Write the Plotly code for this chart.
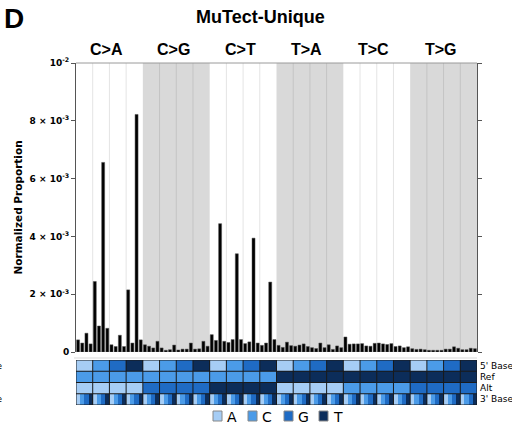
import plotly.graph_objects as go

# ---------------- data ----------------
mut_types = ["C>A", "C>G", "C>T", "T>A", "T>C", "T>G"]
bases = ["A", "C", "G", "T"]
base_colors = ["#a6cdf5", "#4b9be8", "#1f6bc4", "#0c2d5a"]

# normalized proportions (x 1e-4), 16 contexts per type (5' base major, 3' base minor)
vals_CA = [4.2, 3.1, 6.5, 2.8, 24.4, 9.0, 65.6, 8.2, 2.5, 1.9, 5.8, 1.9, 21.5, 3.1, 82.2, 4.2]
vals_CG = [2.5, 2.0, 1.4, 3.7, 1.4, 0.6, 0.8, 2.4, 0.7, 1.0, 1.0, 3.1, 1.0, 1.1, 3.7, 2.0]
vals_CT = [6.0, 4.0, 44.4, 3.7, 3.3, 4.3, 34.0, 4.3, 2.9, 3.5, 39.4, 3.1, 2.3, 3.1, 24.2, 4.3]
vals_TA = [2.3, 1.6, 3.4, 2.2, 2.0, 2.4, 2.8, 1.9, 1.5, 1.2, 3.1, 1.5, 2.5, 0.9, 2.1, 1.5]
vals_TC = [5.2, 2.7, 2.8, 2.8, 2.9, 2.1, 2.0, 3.0, 3.1, 2.8, 2.6, 2.9, 1.9, 2.1, 1.5, 1.8]
vals_TG = [1.15, 0.9, 1.0, 0.8, 0.6, 0.6, 0.6, 0.6, 1.0, 1.0, 1.8, 1.3, 0.8, 0.8, 1.3, 1.15]

y_tickvals = [0, 0.002, 0.004, 0.006, 0.008, 0.01]
y_ticktext = ["0", "2 × 10<sup>-3</sup>", "4 × 10<sup>-3</sup>", "6 × 10<sup>-3</sup>",
              "8 × 10<sup>-3</sup>", "10<sup>-2</sup>"]
row_labels = ["5' Base", "Ref", "Alt", "3' Base"]

values = [v * 1e-4 for grp in [vals_CA, vals_CG, vals_CT, vals_TA, vals_TC, vals_TG] for v in grp]
n = len(values)
xs = list(range(n))

# heatmap rows (category indices)
five_row, ref_row, alt_row, three_row = [], [], [], []
for mt in mut_types:
    for f in bases:
        for t in bases:
            five_row.append(bases.index(f))
            ref_row.append(bases.index(mt[0]))
            alt_row.append(bases.index(mt[2]))
            three_row.append(bases.index(t))
z_rows = [five_row, ref_row, alt_row, three_row]

# ---------------- layout geometry ----------------
W, H = 512, 424
L, R, T, B = 76, 477, 63, 405
BAR_BOTTOM, HM_TOP = 352, 360
PH = B - T
PW = R - L


def px(xp):
    return (xp - L) / PW


def py(yp):
    return (B - yp) / PH


fig = go.Figure()
fig.add_trace(go.Bar(x=xs, y=values, marker=dict(color="#000000", line=dict(color="#555555", width=0.5)),
                     xaxis="x", yaxis="y", showlegend=False, hoverinfo="skip"))

colorscale = [[0, base_colors[0]], [1 / 3, base_colors[1]], [2 / 3, base_colors[2]], [1, base_colors[3]]]
fig.add_trace(go.Heatmap(z=z_rows, x=xs, y=[0, 1, 2, 3], colorscale=colorscale, zmin=0, zmax=3,
                         showscale=False, xaxis="x2", yaxis="y2", hoverinfo="skip"))

shapes = []
# shaded groups
for g in range(len(mut_types)):
    if g % 2 == 1:
        shapes.append(dict(type="rect", xref="x", yref="y domain", x0=16 * g - 0.5, x1=16 * g + 15.5,
                           y0=0, y1=1, fillcolor="#d9d9d9", line=dict(width=0), layer="below"))
# light vertical lines at 4-context boundaries
for k in range(1, 24):
    if k % 4 == 0:
        continue
    g = k // 4
    col = "#c4c4c4" if g % 2 == 1 else "#e4e4e4"
    shapes.append(dict(type="line", xref="x", yref="y domain", x0=4 * k - 0.5, x1=4 * k - 0.5,
                       y0=0, y1=1, line=dict(color=col, width=1), layer="below"))
# top frame line
shapes.append(dict(type="line", xref="paper", yref="paper", x0=0, x1=1, y0=1, y1=1,
                   line=dict(color="#9a9a9a", width=1)))
# light line under bars
shapes.append(dict(type="line", xref="paper", yref="paper", x0=px(74), x1=1, y0=py(358), y1=py(358),
                   line=dict(color="#e6e6e6", width=1.5)))
# heatmap borders
for k in range(0, 25):
    shapes.append(dict(type="line", xref="x2", yref="y2", x0=4 * k - 0.5, x1=4 * k - 0.5, y0=-0.5, y1=3.5,
                       line=dict(color="#1a1a1a", width=1)))
for r in range(0, 5):
    shapes.append(dict(type="line", xref="x2", yref="y2", x0=-0.5, x1=n - 0.5, y0=r - 0.5, y1=r - 0.5,
                       line=dict(color="#1a1a1a", width=1)))

annotations = []
# group labels
for g, mt in enumerate(mut_types):
    annotations.append(dict(text=mt, xref="x", yref="paper", x=16 * g + 7.5, y=1, yanchor="bottom",
                            yshift=3, xshift=-3, showarrow=False,
                            font=dict(family="Liberation Sans", size=16, color="#000", weight="bold")))
# title and panel letter
annotations.append(dict(text="MuTect-Unique", xref="paper", yref="paper", x=px(260), y=py(17),
                        xanchor="center", yanchor="middle", showarrow=False,
                        font=dict(family="Liberation Sans", size=18, color="#000", weight="bold")))
annotations.append(dict(text="D", xref="paper", yref="paper", x=px(2), y=py(18),
                        xanchor="left", yanchor="middle", showarrow=False,
                        font=dict(family="Liberation Sans", size=28, color="#000", weight="bold")))
# y title
annotations.append(dict(text="Normalized Proportion", xref="paper", yref="paper", x=px(17),
                        y=py((T + BAR_BOTTOM) / 2), textangle=-90, xanchor="center", yanchor="middle",
                        showarrow=False,
                        font=dict(family="DejaVu Sans", size=10.5, color="#000", weight="bold")))
# heatmap row labels (right) and clipped labels (left)
for r, lab in enumerate(row_labels):
    annotations.append(dict(text=lab, xref="paper", yref="y2", x=1, y=r, xanchor="left", yanchor="middle",
                            xshift=1, showarrow=False, font=dict(family="DejaVu Sans", size=9, color="#000")))
for r in [0, 3]:
    annotations.append(dict(text=row_labels[r], xref="paper", yref="y2", x=px(4), y=r, xanchor="right",
                            yanchor="middle", showarrow=False,
                            font=dict(family="DejaVu Sans", size=9, color="#000")))
# legend
leg_x = [213, 248, 284, 319]
for b, c, lx in zip(bases, base_colors, leg_x):
    shapes.append(dict(type="rect", xref="paper", yref="paper", x0=px(lx), x1=px(lx + 9),
                       y0=py(421), y1=py(411), fillcolor=c, line=dict(color="#888888", width=1)))
    annotations.append(dict(text=b, xref="paper", yref="paper", x=px(lx + 12), y=py(416.5),
                            xanchor="left", yanchor="middle", showarrow=False,
                            font=dict(family="DejaVu Sans", size=14, color="#000")))

fig.update_layout(
    width=W, height=H, margin=dict(l=L, r=W - R, t=T, b=H - B),
    paper_bgcolor="white", plot_bgcolor="white", bargap=0.28,
    showlegend=False, shapes=shapes, annotations=annotations,
    xaxis=dict(range=[-0.5, n - 0.5], anchor="y", showticklabels=False, showgrid=False,
               zeroline=False, ticks="", showline=False),
    xaxis2=dict(range=[-0.5, n - 0.5], anchor="y2", matches="x", showticklabels=False, showgrid=False,
                zeroline=False, ticks="", showline=False),
    yaxis=dict(domain=[py(BAR_BOTTOM), 1], range=[0, 0.01], tickvals=y_tickvals, ticktext=y_ticktext,
               ticks="outside", ticklen=4, tickcolor="#555", showline=True, linecolor="#555",
               linewidth=1, mirror="ticks", showgrid=False, zeroline=False,
               tickfont=dict(family="DejaVu Sans", size=9, color="#000", weight="bold")),
    yaxis2=dict(domain=[0, py(HM_TOP)], range=[3.5, -0.5], showticklabels=False, showgrid=False,
                zeroline=False, ticks=""),
)

fig.write_html("out.html")
